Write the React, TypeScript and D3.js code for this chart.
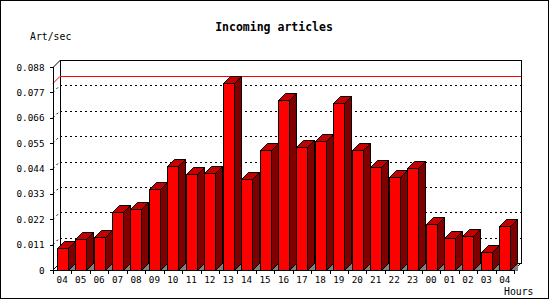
import React from "react";
import * as d3 from "d3";

const hours = ["04","05","06","07","08","09","10","11","12","13","14","15","16","17","18","19","20","21","22","23","00","01","02","03","04"];
const values = [0.0094,0.0133,0.0143,0.0250,0.0264,0.0350,0.0449,0.0415,0.0419,0.0809,0.0393,0.0519,0.0736,0.0532,0.0558,0.0724,0.0519,0.0445,0.0402,0.0442,0.0199,0.0137,0.0146,0.0078,0.0189];
const yTicks = [0,0.011,0.022,0.033,0.044,0.055,0.066,0.077,0.088];
const title = "Incoming articles";
const yTitle = "Art/sec";
const xTitle = "Hours";

const W = 550, H = 300;
const X0 = 53, X1 = 514, Y0 = 270, Y1 = 67;
const DX = 7, DY = -7;
const mono = "'DejaVu Sans Mono', monospace";

export default function App() {
  const x = d3.scaleBand<number>().domain(hours.map((_, i) => i)).range([X0, X1]).paddingInner(0).paddingOuter(0);
  const y = d3.scaleLinear().domain([0, 0.088]).range([Y0, Y1]);
  const cw = x.bandwidth();
  const bw = 11;
  const maxV = d3.max(values) as number;
  const pts = (a: number[][]) => a.map(p => p.join(",")).join(" ");

  return (
    <svg width={W} height={H} style={{ position: "absolute", left: 0, top: 0, background: "#fff" }} shapeRendering="crispEdges">
      <rect x={0.5} y={0.5} width={548} height={298} fill="#fff" stroke="#000" />
      <text x={274} y={31} textAnchor="middle" fontFamily={mono} fontWeight="bold" fontSize={11.5}>{title}</text>
      <text x={30} y={40} fontFamily={mono} fontSize={9.8}>{yTitle}</text>
      <text x={504} y={295} fontFamily={mono} fontSize={9.8}>{xTitle}</text>

      {/* back wall */}
      <rect x={X0 + DX + 0.5} y={Y1 + DY + 0.5} width={X1 - X0} height={Y0 - Y1} fill="#fff" stroke="#000" />
      {/* floor edges */}
      <line x1={X0} y1={Y0} x2={X0 + DX} y2={Y0 + DY} stroke="#000" shapeRendering="auto" />
      <line x1={X1} y1={Y0} x2={X1 + DX} y2={Y0 + DY} stroke="#000" shapeRendering="auto" />
      {/* top-left depth edge */}
      <line x1={X0 + 0.5} y1={Y1} x2={X0 + DX + 0.5} y2={Y1 + DY} stroke="#000" shapeRendering="auto" />

      {/* grid */}
      {yTicks.filter(t => t > 0 && t < 0.088).map((t, i) => (
        <g key={"g" + i} stroke="#000" strokeDasharray="2,3">
          <line x1={X0 + DX} y1={Math.round(y(t) + DY) + 0.5} x2={X1 + DX} y2={Math.round(y(t) + DY) + 0.5} />
          <line x1={X0} y1={y(t)} x2={X0 + DX} y2={y(t) + DY} shapeRendering="auto" />
        </g>
      ))}
      {/* max line */}
      <g stroke="#ff0000">
        <line x1={X0 + DX} y1={Math.round(y(maxV) + DY) + 0.5} x2={X1 + DX} y2={Math.round(y(maxV) + DY) + 0.5} />
        <line x1={X0} y1={y(maxV)} x2={X0 + DX} y2={y(maxV) + DY} shapeRendering="auto" />
      </g>

      {/* bars */}
      {values.map((v, i) => {
        const bx = Math.round((x(i) as number) + (cw - bw) / 2) + 0.5;
        const top = Math.round(y(v)) + 0.5;
        const bot = Y0 + 0.5;
        return (
          <g key={"b" + i} stroke="#000" strokeLinejoin="miter">
            <polygon points={pts([[bx + bw, bot], [bx + bw + DX, bot + DY], [bx + bw + DX, bot]])} fill="#808080" stroke="none" />
            <polygon points={pts([[bx + bw, top], [bx + bw + DX, top + DY], [bx + bw + DX, bot + DY], [bx + bw, bot]])} fill="#800000" shapeRendering="auto" />
            <polygon points={pts([[bx, top], [bx + DX, top + DY], [bx + bw + DX, top + DY], [bx + bw, top]])} fill="#c40000" shapeRendering="auto" />
            <rect x={bx} y={top} width={bw} height={bot - top} fill="#ff0000" />
          </g>
        );
      })}

      {/* axes */}
      <line x1={X0 + 0.5} y1={Y1} x2={X0 + 0.5} y2={Y0 + 1} stroke="#000" />
      <line x1={X0} y1={Y0 + 0.5} x2={X1 + 1} y2={Y0 + 0.5} stroke="#000" />
      {yTicks.map((t, i) => (
        <g key={"yt" + i}>
          <line x1={X0 - 3} y1={Math.round(y(t)) + 0.5} x2={X0} y2={Math.round(y(t)) + 0.5} stroke="#000" />
          <text x={44.5} y={y(t) + 3.5} textAnchor="end" fontFamily={mono} fontSize={9.3}>{t === 0 ? "0" : t.toFixed(3)}</text>
        </g>
      ))}
      {hours.map((_, i) => (
        <line key={"xt" + i} x1={Math.round(x(i) as number) + 0.5} y1={Y0} x2={Math.round(x(i) as number) + 0.5} y2={Y0 + 4} stroke="#000" />
      ))}
      <line x1={X1 + 0.5} y1={Y0} x2={X1 + 0.5} y2={Y0 + 4} stroke="#000" />
      {hours.map((h, i) => (
        <text key={"xl" + i} x={(x(i) as number) + cw / 2} y={283} textAnchor="middle" fontFamily={mono} fontSize={9.3}>{h}</text>
      ))}
    </svg>
  );
}
